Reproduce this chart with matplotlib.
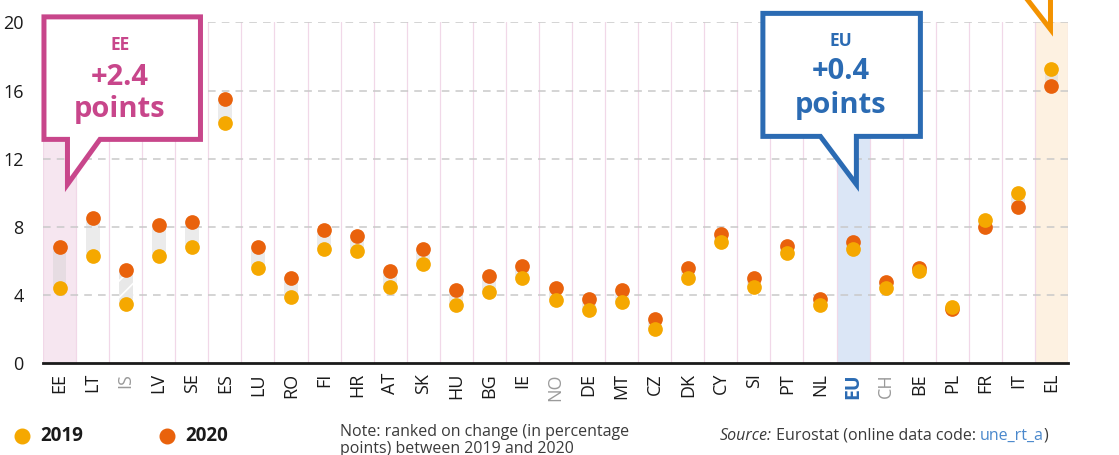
import matplotlib
matplotlib.use("Agg")
import matplotlib.pyplot as plt
from matplotlib.patches import Polygon
from matplotlib.lines import Line2D
import numpy as np

plt.rcParams['font.family'] = ['Open Sans', 'DejaVu Sans']
plt.rcParams['hatch.linewidth'] = 1.2

# ---------------- data ----------------
countries = ['EE', 'LT', 'IS', 'LV', 'SE', 'ES', 'LU', 'RO', 'FI', 'HR', 'AT', 'SK', 'HU',
             'BG', 'IE', 'NO', 'DE', 'MT', 'CZ', 'DK', 'CY', 'SI', 'PT', 'NL', 'EU', 'CH',
             'BE', 'PL', 'FR', 'IT', 'EL']
v2019 = [4.4, 6.3, 3.5, 6.3, 6.8, 14.1, 5.6, 3.9, 6.7, 6.6, 4.5, 5.8, 3.4,
         4.2, 5.0, 3.7, 3.1, 3.6, 2.0, 5.0, 7.1, 4.5, 6.5, 3.4, 6.7, 4.4,
         5.4, 3.3, 8.4, 10.0, 17.3]
v2020 = [6.8, 8.5, 5.5, 8.1, 8.3, 15.5, 6.8, 5.0, 7.8, 7.5, 5.4, 6.7, 4.3,
         5.1, 5.7, 4.4, 3.8, 4.3, 2.6, 5.6, 7.6, 5.0, 6.9, 3.8, 7.1, 4.8,
         5.6, 3.2, 8.0, 9.2, 16.3]
non_eu = ['IS', 'NO', 'CH']
yticks = [0, 4, 8, 12, 16, 20]
legend_labels = ['2019', '2020']

C19 = '#F5A800'
C20 = '#E9620C'
PINK = '#C8468B'
BLUE = '#2B6BB3'
ORANGE = '#F39200'

W, H = 1119, 455
fig = plt.figure(figsize=(W / 100, H / 100), dpi=100)
ax = fig.add_axes([43 / W, 1 - 363.3 / H, 1025 / W, (363.3 - 22.5) / H])

n = len(countries)
x = np.arange(n)
ax.set_xlim(-0.5, n - 0.5)
ax.set_ylim(0, 20)

# highlight columns
highlights = {'EE': '#F6E6F0', 'EU': '#DBE6F6', 'EL': '#FDF1E1'}
for c, col in highlights.items():
    i = countries.index(c)
    ax.axvspan(i - 0.5, i + 0.5, ymin=0, ymax=1, color=col, zorder=0, lw=0)

# vertical separators
for b in np.arange(-0.5, n, 1.0):
    ax.axvline(b, color='#F1D8E8', lw=0.9, zorder=0.5)
# horizontal dashed grid
for t in yticks[1:]:
    ax.axhline(t, color='#C9C9C9', lw=1.1, dashes=(5, 4), zorder=0.6)

# bands
lo = np.minimum(v2019, v2020)
hi = np.maximum(v2019, v2020)
for i, c in enumerate(countries):
    if c == 'IS':
        ax.bar(i, hi[i] - lo[i], bottom=lo[i], width=0.42, color='#E8E8E8',
               hatch='//', edgecolor='white', lw=0, zorder=1)
    else:
        ax.bar(i, hi[i] - lo[i], bottom=lo[i], width=0.42, color='#CFCFCF',
               alpha=0.4, lw=0, zorder=1)

ax.scatter(x, v2020, s=112, color=C20, zorder=3, lw=0)
ax.scatter(x, v2019, s=112, color=C19, zorder=4, lw=0)

# axes styling
for s in ['top', 'right', 'left']:
    ax.spines[s].set_visible(False)
ax.spines['bottom'].set_linewidth(2.0)
ax.spines['bottom'].set_color('#1a1a1a')
ax.spines['bottom'].set_zorder(5)
ax.set_yticks(yticks)
ax.set_yticklabels([str(t) for t in yticks], fontsize=13, color='#1a1a1a')
ax.tick_params(axis='y', length=0, pad=14)
ax.set_xticks(x)
ax.set_xticklabels(countries, rotation=90, fontsize=13)
ax.tick_params(axis='x', length=0, pad=7)
for lab in ax.get_xticklabels():
    t = lab.get_text()
    if t in non_eu:
        lab.set_color('#9A9A9A')
    elif t == 'EU':
        lab.set_color(BLUE)
        lab.set_fontweight('bold')
        lab.set_fontsize(14)
    else:
        lab.set_color('#1a1a1a')

fig.canvas.draw()
disp = ax.transData


def callout(tip, box, tail, color, texts):
    """tip in data coords; box (l, r, top, bottom) & tail x-attachments in pixel offsets (y down)."""
    tx, ty = disp.transform(tip)
    l, r, t, b = box
    tl, tr = tail
    pts = [(l, t), (r, t), (r, b), (tr, b), (0, 0), (tl, b), (l, b)]
    verts = [(tx + px, ty - py) for px, py in pts]
    poly = Polygon(verts, closed=True, facecolor='white', edgecolor=color,
                   lw=3.6, joinstyle='miter', transform=None, zorder=10, clip_on=False)
    fig.add_artist(poly)
    for (dx, dy, s, fs) in texts:
        fig.text((tx + dx) / W, (ty - dy) / H, s, transform=fig.transFigure,
                 ha='center', va='center', color=color, fontsize=fs,
                 fontweight='bold', zorder=11)


callout((countries.index('EE') + 0.24, 10.5), (-23.5, 133, -167.5, -45), (0, 32.5), PINK,
        [(52.5, -139, 'EE', 12.5), (52.5, -107, '+2.4', 21), (52.5, -75, 'points', 21)])
callout((countries.index('EU') + 0.1, 10.5), (-93.5, 64, -171, -48), (-36, 0), BLUE,
        [(-16, -143, 'EU', 12.5), (-16, -113, '+0.4', 21), (-16, -79, 'points', 21)])

# EL callout (box out of view: only tail visible)
tx, ty = disp.transform((countries.index('EL') - 0.03, 19.6))
fig.add_artist(Line2D([tx - 45, tx, tx], [ty + 58, ty, ty + 58], color=ORANGE, lw=3.6,
                      solid_joinstyle='miter', transform=None, zorder=10))

# legend
for xp, lab, col in [(22, legend_labels[0], C19), (167, legend_labels[1], C20)]:
    fig.add_artist(Line2D([xp / W], [1 - 436 / H], marker='o', ms=10.5, color=col,
                          lw=0, transform=fig.transFigure))
    fig.text((xp + 18) / W, 1 - 436 / H, lab, fontsize=13.5, fontweight='bold',
             color='#1a1a1a', va='center', ha='left')

fig.text(340 / W, 1 - 424 / H, 'Note: ranked on change (in percentage\npoints) between 2019 and 2020',
         fontsize=11.5, color='#3a3a3a', va='top', ha='left', linespacing=1.05)

t1 = fig.text(720 / W, 1 - 436 / H, 'Source:', fontsize=11.5, style='italic',
              color='#3a3a3a', va='center', ha='left')
t2 = ax.annotate(' Eurostat (online data code: ', xy=(1, 0.5), xycoords=t1,
                 fontsize=11.5, color='#3a3a3a', va='center', ha='left', annotation_clip=False)
t3 = ax.annotate('une_rt_a', xy=(1, 0.5), xycoords=t2,
                 fontsize=11.5, color='#4A88CC', va='center', ha='left', annotation_clip=False)
ax.annotate(')', xy=(1, 0.5), xycoords=t3,
            fontsize=11.5, color='#3a3a3a', va='center', ha='left', annotation_clip=False)

fig.savefig('out.png', dpi=100)
